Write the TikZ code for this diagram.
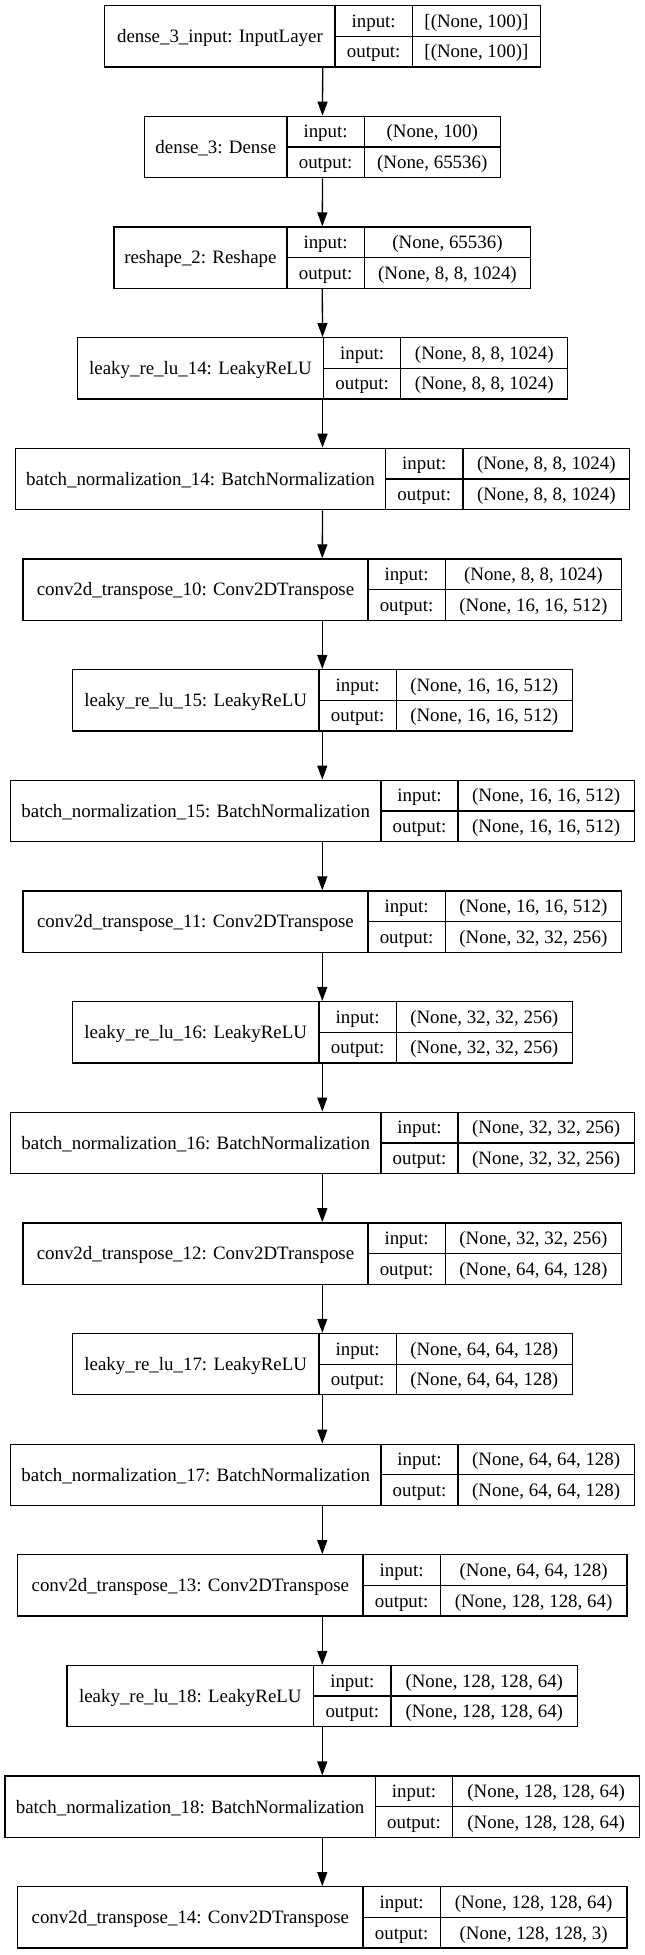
\documentclass[tikz,border=0pt]{standalone}
\usepackage{fontspec}
\setmainfont{Liberation Serif}
\usetikzlibrary{fit,arrows.meta}
\tikzset{
  layerbox/.style={draw=black, line width=1.3pt, inner sep=0pt},
  cellline/.style={draw=black, line width=1.3pt},
  txt/.style={inner sep=0pt, text height=12.5pt, text depth=0pt, font=\fontsize{18.9}{22}\selectfont},
  arr/.style={draw=black, line width=1.3pt, -{Triangle[length=14pt,width=10pt]}}
}
\newcommand\kerlayer[8]{%
  \pgfmathsetmacro\ltop{5.7+110.65*(#1-1)}%
  \pgfmathsetmacro\lbot{\ltop+61.3}%
  \pgfmathsetmacro\lmid{\ltop+30.65}%
  \pgfmathsetmacro\lra{\ltop+15.325}%
  \pgfmathsetmacro\lrb{\ltop+45.975}%
  \node[layerbox, fit={(#2,\ltop) (#5,\lbot)}] (b#1) {};
  \draw[cellline] (#3,\ltop) -- (#3,\lbot);
  \draw[cellline] (#4,\ltop) -- (#4,\lbot);
  \draw[cellline] (#3,\lmid) -- (#5,\lmid);
  \node[txt] (n#1) at ({(#2+#3)/2},\lmid) {#6};
  \node[txt] (ia#1) at ({(#3+#4)/2},\lra) {input:};
  \node[txt] (oa#1) at ({(#3+#4)/2},\lrb) {output:};
  \node[txt] (iv#1) at ({(#4+#5)/2},\lra) {#7};
  \node[txt] (ov#1) at ({(#4+#5)/2},\lrb) {#8};
}
\begin{document}
\begin{tikzpicture}[x=0.41109pt, y=-1pt]
\useasboundingbox (0,0) rectangle (1569,1955);
\kerlayer{1}{255}{815}{1003}{1315}{dense\_3\_input: InputLayer}{[(None, 100)]}{[(None, 100)]}
\kerlayer{2}{352}{698}{886}{1217}{dense\_3: Dense}{(None, 100)}{(None, 65536)}
\kerlayer{3}{277}{698}{886}{1291}{reshape\_2: Reshape}{(None, 65536)}{(None, 8, 8, 1024)}
\kerlayer{4}{188}{787}{975}{1381}{leaky\_re\_lu\_14: LeakyReLU}{(None, 8, 8, 1024)}{(None, 8, 8, 1024)}
\kerlayer{5}{37}{938}{1126}{1532}{batch\_normalization\_14: BatchNormalization}{(None, 8, 8, 1024)}{(None, 8, 8, 1024)}
\kerlayer{6}{56}{895}{1083}{1512}{conv2d\_transpose\_10: Conv2DTranspose}{(None, 8, 8, 1024)}{(None, 16, 16, 512)}
\kerlayer{7}{176}{776}{964}{1392}{leaky\_re\_lu\_15: LeakyReLU}{(None, 16, 16, 512)}{(None, 16, 16, 512)}
\kerlayer{8}{25}{927}{1114}{1543}{batch\_normalization\_15: BatchNormalization}{(None, 16, 16, 512)}{(None, 16, 16, 512)}
\kerlayer{9}{56}{895}{1083}{1512}{conv2d\_transpose\_11: Conv2DTranspose}{(None, 16, 16, 512)}{(None, 32, 32, 256)}
\kerlayer{10}{176}{776}{964}{1392}{leaky\_re\_lu\_16: LeakyReLU}{(None, 32, 32, 256)}{(None, 32, 32, 256)}
\kerlayer{11}{25}{927}{1114}{1543}{batch\_normalization\_16: BatchNormalization}{(None, 32, 32, 256)}{(None, 32, 32, 256)}
\kerlayer{12}{56}{895}{1083}{1512}{conv2d\_transpose\_12: Conv2DTranspose}{(None, 32, 32, 256)}{(None, 64, 64, 128)}
\kerlayer{13}{176}{776}{964}{1392}{leaky\_re\_lu\_17: LeakyReLU}{(None, 64, 64, 128)}{(None, 64, 64, 128)}
\kerlayer{14}{25}{927}{1114}{1543}{batch\_normalization\_17: BatchNormalization}{(None, 64, 64, 128)}{(None, 64, 64, 128)}
\kerlayer{15}{43}{883}{1071}{1525}{conv2d\_transpose\_13: Conv2DTranspose}{(None, 64, 64, 128)}{(None, 128, 128, 64)}
\kerlayer{16}{163}{763}{951}{1405}{leaky\_re\_lu\_18: LeakyReLU}{(None, 128, 128, 64)}{(None, 128, 128, 64)}
\kerlayer{17}{12}{913}{1101}{1556}{batch\_normalization\_18: BatchNormalization}{(None, 128, 128, 64)}{(None, 128, 128, 64)}
\kerlayer{18}{43}{883}{1071}{1525}{conv2d\_transpose\_14: Conv2DTranspose}{(None, 128, 128, 64)}{(None, 128, 128, 3)}
\foreach \a [evaluate=\a as \b using int(\a+1)] in {1,...,17}
  \draw[arr] (b\a.south) -- (b\b.north);
\end{tikzpicture}
\end{document}
